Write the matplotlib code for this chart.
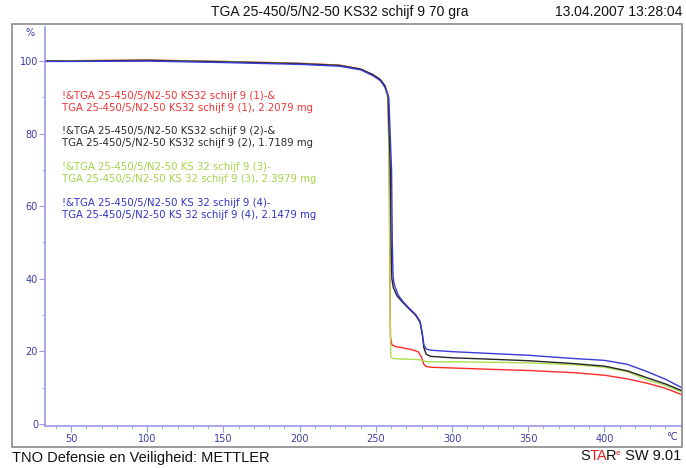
import matplotlib
matplotlib.use("Agg")
import matplotlib.pyplot as plt
from matplotlib.patches import Rectangle
from matplotlib.ticker import MultipleLocator, FixedLocator

# TGA curves: temperature (°C) vs. weight (%)
temp_red = [33, 50, 100, 150, 200, 226, 240, 248, 253, 256, 258, 258.8, 259.2, 259.6, 260.5,
            263, 268, 274, 278, 280, 281.5, 283, 286, 300, 320, 350, 380, 400, 415, 428, 440, 451]
wt_red = [100.1, 100.1, 100.3, 99.9, 99.4, 98.9, 97.8, 96.2, 94.8, 93.0, 90.0, 70, 40, 24, 21.8,
          21.3, 20.9, 20.4, 19.8, 18.3, 16.4, 15.8, 15.6, 15.4, 15.1, 14.7, 14.1, 13.4, 12.4, 11.2, 9.8, 8.0]

temp_black = [33, 50, 100, 150, 200, 226, 240, 248, 253, 256, 258, 259.5, 260.0, 260.5, 261.5,
              264, 268, 272, 276, 279, 280.5, 281.5, 283, 286, 300, 320, 350, 380, 400, 415, 428, 440, 451]
wt_black = [100.0, 100.0, 100.2, 99.8, 99.3, 98.8, 97.8, 96.3, 94.9, 93.2, 90.5, 70, 50, 40, 37.5,
            35.2, 33.3, 31.6, 30.0, 28.0, 24.5, 21.0, 19.2, 18.6, 18.2, 17.9, 17.4, 16.6, 15.9, 14.6, 12.7, 11.0, 9.1]

temp_green = [33, 50, 100, 150, 200, 226, 240, 248, 253, 256, 258, 259.0, 259.4, 259.8, 261,
              265, 272, 278, 281, 283, 286, 300, 320, 350, 380, 400, 415, 428, 440, 451]
wt_green = [100.0, 100.1, 100.2, 99.9, 99.3, 98.8, 97.7, 96.1, 94.6, 92.8, 89.5, 60, 30, 18.5, 18.0,
            17.9, 17.8, 17.7, 17.4, 17.2, 17.1, 17.1, 17.0, 16.8, 16.3, 15.6, 14.4, 12.1, 10.6, 8.8]

temp_blue = [33, 50, 100, 150, 200, 226, 240, 248, 253, 256, 258.5, 260.3, 260.8, 261.3, 262,
             264.5, 268, 272, 276, 279, 280.5, 281.5, 283, 286, 300, 320, 350, 380, 400, 415, 428, 440, 451]
wt_blue = [99.9, 99.9, 100.0, 99.6, 99.1, 98.6, 97.6, 96.0, 94.6, 92.8, 90.0, 70, 50, 40.5, 38.5,
           35.6, 33.6, 31.8, 30.2, 28.3, 25.0, 21.8, 20.6, 20.3, 19.9, 19.5, 18.9, 18.0, 17.5, 16.4, 14.4, 12.3, 9.9]

x_ticks = [50, 100, 150, 200, 250, 300, 350, 400]

legend_lines = [
    ("!&TGA 25-450/5/N2-50 KS32 schijf 9 (1)-&\nTGA 25-450/5/N2-50 KS32 schijf 9 (1), 2.2079 mg", "#f03434"),
    ("!&TGA 25-450/5/N2-50 KS32 schijf 9 (2)-&\nTGA 25-450/5/N2-50 KS32 schijf 9 (2), 1.7189 mg", "#2a2a2a"),
    ("!&TGA 25-450/5/N2-50 KS 32 schijf 9 (3)-\nTGA 25-450/5/N2-50 KS 32 schijf 9 (3), 2.3979 mg", "#a4d44a"),
    ("!&TGA 25-450/5/N2-50 KS 32 schijf 9 (4)-\nTGA 25-450/5/N2-50 KS 32 schijf 9 (4), 2.1479 mg", "#3434c8"),
]

W, H = 686, 468
fig = plt.figure(figsize=(W / 100, H / 100), dpi=100)
fig.patch.set_facecolor("white")

# outer frame
fig.patches.append(Rectangle((12 / W, 1 - 447 / H), 670 / W, 423 / H, transform=fig.transFigure,
                             fill=False, edgecolor="#8a8a8a", lw=1.2))

ax = fig.add_axes([45 / W, 1 - 426 / H, 637 / W, 399 / H])
axis_col = "#9a9ae6"
lab_col = "#3c3ca8"

ax.plot(temp_red, wt_red, color="#ff2a2a", lw=1.0)
ax.plot(temp_green, wt_green, color="#b0dc50", lw=1.0)
ax.plot(temp_black, wt_black, color="#262626", lw=1.0)
ax.plot(temp_blue, wt_blue, color="#3a3ad8", lw=1.0)

ax.set_xlim(32.9, 450.9)
ax.set_ylim(-0.6, 109.4)
for sp in ("top", "right"):
    ax.spines[sp].set_visible(False)
for sp in ("left", "bottom"):
    ax.spines[sp].set_color(axis_col)
    ax.spines[sp].set_linewidth(1.2)

ax.set_xticks(x_ticks)
ax.xaxis.set_minor_locator(FixedLocator(list(range(40, 451, 10))))
ax.yaxis.set_major_locator(MultipleLocator(20))
ax.yaxis.set_minor_locator(MultipleLocator(10))
ax.tick_params(which="both", direction="out", colors=axis_col, labelcolor=lab_col, labelsize=7)
ax.tick_params(which="major", length=4)
ax.tick_params(which="minor", length=2.5)
ax.tick_params(axis="x", pad=2)
ax.tick_params(axis="y", pad=1)

for (txt, col), ytop in zip(legend_lines, [91, 126, 162, 198]):
    fig.text(62 / W, 1 - ytop / H, txt, color=col, fontsize=7.3, linespacing=1.25, va="top")

fig.text(30 / W, 1 - 33 / H, "%", color=lab_col, fontsize=7, ha="center", va="center")
fig.text(678 / W, 1 - 437 / H, "°C", color=lab_col, fontsize=7, ha="right", va="center")

fig.text(340 / W, 1 - 12 / H, "TGA 25-450/5/N2-50 KS32 schijf 9 70 gra", fontsize=10,
         family="Liberation Sans", ha="center", va="center", color="#111111")
fig.text(682 / W, 1 - 12 / H, "13.04.2007 13:28:04", fontsize=10,
         family="Liberation Sans", ha="right", va="center", color="#111111")
fig.text(12 / W, 1 - 458 / H, "TNO Defensie en Veiligheid: METTLER", fontsize=10.5,
         family="Liberation Sans", ha="left", va="center", color="#111111")

# STARe SW 9.01 with red letters, chained left to right
prev = fig.text(580 / W, 1 - 463 / H, "S", fontsize=10.5, family="Liberation Sans",
                ha="left", va="bottom", color="#111111")
parts = [("TA", "#e02020", 10.5, 0, 0), ("R", "#111111", 10.5, -1.5, 0),
         ("e", "#e02020", 6, 0, 4), (" SW 9.01", "#111111", 10.5, 0, -4)]
for s, c, fs, dx, dy in parts:
    prev = ax.annotate(s, xy=(1, 0), xycoords=prev, xytext=(dx, dy), textcoords="offset points",
                       fontsize=fs, family="Liberation Sans", color=c, ha="left", va="bottom",
                       annotation_clip=False)

fig.savefig("out.png", dpi=100, facecolor="white")
